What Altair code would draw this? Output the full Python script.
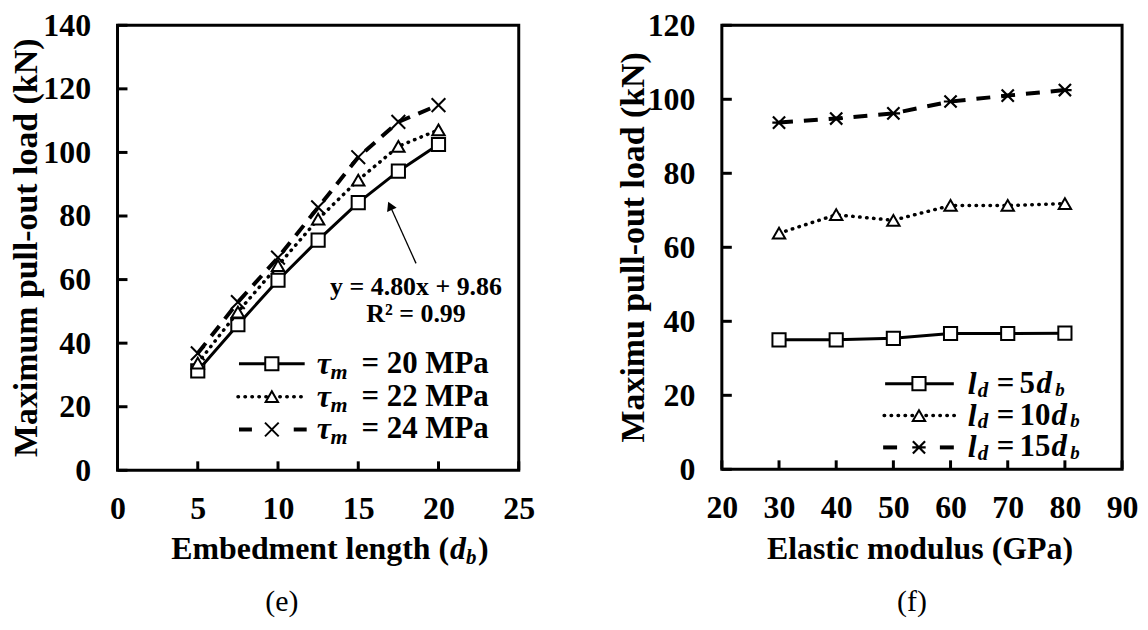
import altair as alt
import pandas as pd

# ---------------- data ----------------
emb_len = [5, 7.5, 10, 12.5, 15, 17.5, 20]
tau_20 = [31.3, 45.8, 59.8, 72.4, 84.2, 94.1, 102.5]
tau_22 = [33.7, 49.8, 64.4, 79.0, 91.3, 101.9, 107.1]
tau_24 = [36.8, 52.9, 66.9, 82.7, 98.5, 109.6, 114.9]
tau_names = ["20", "22", "24"]

mod_gpa = [30, 40, 50, 60, 70, 80]
ld_5 = [35.0, 35.0, 35.4, 36.7, 36.7, 36.8]
ld_10 = [63.8, 68.8, 67.3, 71.3, 71.3, 71.8]
ld_15 = [93.7, 94.8, 96.2, 99.4, 101.0, 102.5]
ld_names = ["5", "10", "15"]

left_x_ticks = [0, 5, 10, 15, 20, 25]
left_y_ticks = [0, 20, 40, 60, 80, 100, 120, 140]
right_x_ticks = [20, 30, 40, 50, 60, 70, 80, 90]
right_y_ticks = [0, 20, 40, 60, 80, 100, 120]

fit_eq = "y = 4.80x + 9.86"
fit_r2 = "R² = 0.99"
fit_x = 18.6
fit_y = [57.5, 49.1]
arrow_tail = [18.6, 65.1]
arrow_head = [16.98, 83.2]

# ---------------- style ----------------
FONT = "Liberation Serif"
W1, H1 = 403, 447
W2, H2 = 402, 446
GAP = 204
TICK_FS = 32
X_PATH = "M-1,-1L1,1M-1,1L1,-1"
XBAR_PATH = "M-1,-1L1,1M-1,1L1,-1M-1.1,0L1.1,0"

SOLID = dict(width=3)
DOTTED = dict(width=3.5, dash=[0.5, 6.5], cap="round")
DASHED = dict(width=4, dash=[13, 9], cap="butt")

SQUARE = dict(shape="square", filled=True, fill="white", stroke="black", strokeWidth=2, size=175, opacity=1)
TRI = dict(shape="triangle-up", filled=True, fill="white", stroke="black", strokeWidth=2, size=155, opacity=1)
CROSS = dict(shape=X_PATH, filled=False, stroke="black", strokeWidth=2, size=190, opacity=1)
CROSSBAR = dict(shape=XBAR_PATH, filled=False, stroke="black", strokeWidth=2.2, size=150, opacity=1)

one = pd.DataFrame({"a": [0]})


def axis(vals, orient):
    return alt.Axis(values=vals, title=None, domain=False, ticks=False, tickSize=0, grid=False,
                    labelFont=FONT, labelFontSize=TICK_FS, labelFontWeight="bold", labelColor="black",
                    labelPadding=27 if orient == "y" else 23, labelFlush=False, labelOverlap=False)


def txt(s, x, y, size, weight="bold", style="normal", align="left", angle=0):
    return alt.Chart(pd.DataFrame({"t": [s]})).mark_text(
        font=FONT, fontSize=size, fontWeight=weight, fontStyle=style, align=align,
        baseline="middle", angle=angle, color="black").encode(
        x=alt.value(x), y=alt.value(y), text="t:N")


def hrule(x1, x2, y, st):
    kw = dict(color="black", strokeWidth=st["width"], strokeCap=st.get("cap", "butt"))
    if st.get("dash"):
        kw["strokeDash"] = st["dash"]
    return alt.Chart(one).mark_rule(**kw).encode(x=alt.value(x1), x2=alt.value(x2), y=alt.value(y))


def lmark(x, y, marker):
    return alt.Chart(one).mark_point(**marker).encode(x=alt.value(x), y=alt.value(y))


def series(xs, ys, xenc, yenc, st, marker):
    df = pd.DataFrame({"x": xs, "y": ys})
    kw = dict(color="black", strokeWidth=st["width"], strokeCap=st.get("cap", "butt"))
    if st.get("dash"):
        kw["strokeDash"] = st["dash"]
    line = alt.Chart(df).mark_line(**kw).encode(x=xenc("x"), y=yenc("y"))
    pts = alt.Chart(df).mark_point(**marker).encode(x=xenc("x"), y=yenc("y"))
    return [line, pts]


# ---------------- left panel ----------------
lxs = alt.Scale(domain=[0, 25], nice=False, zero=False)
lys = alt.Scale(domain=[0, 140], nice=False)
lxax = axis(left_x_ticks, "x")
lyax = axis(left_y_ticks, "y")


def lx(f):
    return alt.X(f"{f}:Q", scale=lxs, axis=lxax)


def ly(f):
    return alt.Y(f"{f}:Q", scale=lys, axis=lyax)


L = []
L.append(alt.Chart(pd.DataFrame({"v": left_y_ticks})).mark_rule(color="black", strokeWidth=3).encode(
    y=ly("v"), x=alt.value(0), x2=alt.value(10)))
L.append(alt.Chart(pd.DataFrame({"v": left_x_ticks})).mark_rule(color="black", strokeWidth=3).encode(
    x=lx("v"), y=alt.value(H1), y2=alt.value(H1 - 9)))
L += series(emb_len, tau_20, lx, ly, SOLID, SQUARE)
L += series(emb_len, tau_22, lx, ly, DOTTED, TRI)
L += series(emb_len, tau_24, lx, ly, DASHED, CROSS)

# trend annotation
L.append(alt.Chart(pd.DataFrame({"x": [arrow_tail[0]], "y": [arrow_tail[1]],
                                 "x2": [arrow_head[0]], "y2": [arrow_head[1]]}))
         .mark_rule(color="black", strokeWidth=1.3)
         .encode(x=lx("x"), y=ly("y"), x2="x2:Q", y2="y2:Q"))
L.append(alt.Chart(pd.DataFrame({"x": [arrow_head[0]], "y": [arrow_head[1]]}))
         .mark_point(shape="triangle-up", filled=True, color="black", size=110, angle=336, opacity=1)
         .encode(x=lx("x"), y=ly("y")))
L.append(alt.Chart(pd.DataFrame({"x": [fit_x, fit_x], "y": fit_y, "t": [fit_eq, fit_r2]}))
         .mark_text(font=FONT, fontSize=26, fontWeight="bold", color="black", align="center", baseline="middle")
         .encode(x=lx("x"), y=ly("y"), text="t:N"))

# legend
lrows = [340, 373, 406]
L.append(hrule(122, 188, lrows[0], SOLID))
L.append(lmark(155, lrows[0], SQUARE))
L.append(hrule(121, 190, lrows[1], DOTTED))
L.append(lmark(155, lrows[1], TRI))
L.append(hrule(122, 135, lrows[2], dict(width=4)))
L.append(hrule(177, 190, lrows[2], dict(width=4)))
L.append(lmark(155, lrows[2], CROSS))
for name, yy in zip(tau_names, lrows):
    L.append(txt("τ", 200, yy, 32, style="italic"))
    L.append(txt("m", 214, yy + 8, 22, style="italic"))
    L.append(txt(f"= {name} MPa", 245, yy, 31))

# titles
L.append(txt("Maximum pull-out load (kN)", -91, H1 / 2, 34, align="center", angle=270))
L.append(txt("Embedment length (", 333, 526, 32, align="right"))
L.append(txt("d", 334, 526, 32, style="italic"))
L.append(txt("b", 350, 535, 21, style="italic"))
L.append(txt(")", 362, 526, 32))
L.append(txt("(e)", 165, 579, 30, weight="normal", align="center"))

left = alt.layer(*L).properties(width=W1, height=H1)

# ---------------- right panel ----------------
rxs = alt.Scale(domain=[20, 90], nice=False, zero=False)
rys = alt.Scale(domain=[0, 120], nice=False)
rxax = axis(right_x_ticks, "x")
ryax = axis(right_y_ticks, "y")


def rx(f):
    return alt.X(f"{f}:Q", scale=rxs, axis=rxax)


def ry(f):
    return alt.Y(f"{f}:Q", scale=rys, axis=ryax)


R = []
R.append(alt.Chart(pd.DataFrame({"v": right_y_ticks})).mark_rule(color="black", strokeWidth=3).encode(
    y=ry("v"), x=alt.value(0), x2=alt.value(10)))
R.append(alt.Chart(pd.DataFrame({"v": right_x_ticks})).mark_rule(color="black", strokeWidth=3).encode(
    x=rx("v"), y=alt.value(H2), y2=alt.value(H2 - 9)))
R += series(mod_gpa, ld_5, rx, ry, SOLID, SQUARE)
R += series(mod_gpa, ld_10, rx, ry, DOTTED, TRI)
R += series(mod_gpa, ld_15, rx, ry, dict(width=4, dash=[14, 11], cap="butt"), CROSSBAR)

rrows = [360, 392, 424]
R.append(hrule(164, 233, rrows[0], SOLID))
R.append(lmark(198, rrows[0], SQUARE))
R.append(hrule(163, 234, rrows[1], DOTTED))
R.append(lmark(198, rrows[1], TRI))
R.append(hrule(162, 176, rrows[2], dict(width=4)))
R.append(hrule(219, 233, rrows[2], dict(width=4)))
R.append(lmark(198, rrows[2], CROSSBAR))
for name, yy in zip(ld_names, rrows):
    R.append(txt("l", 247, yy, 32, style="italic"))
    R.append(txt("d", 257, yy + 7, 21, style="italic"))
    R.append(txt("=", 276, yy, 31))
    R.append(txt(name, 299, yy, 31))
    dx = 299 + 15 * len(name) + 2
    R.append(txt("d", dx, yy, 31, style="italic"))
    R.append(txt("b", dx + 19, yy + 6, 19, style="italic"))

R.append(txt("Maximu pull-out load (kN)", -88, H2 / 2, 34, align="center", angle=270))
R.append(txt("Elastic modulus (GPa)", 199, 526, 32, align="center"))
R.append(txt("(f)", 191, 579, 30, weight="normal", align="center"))

right = alt.layer(*R).properties(width=W2, height=H2)

chart = alt.hconcat(left, right, spacing=GAP, bounds="flush").properties(
    padding={"left": 0, "top": -2, "right": 0, "bottom": 0}, background="white"
).configure_view(stroke="black", strokeWidth=3)

chart.save("out.html", embed_options={"renderer": "svg", "actions": False})
